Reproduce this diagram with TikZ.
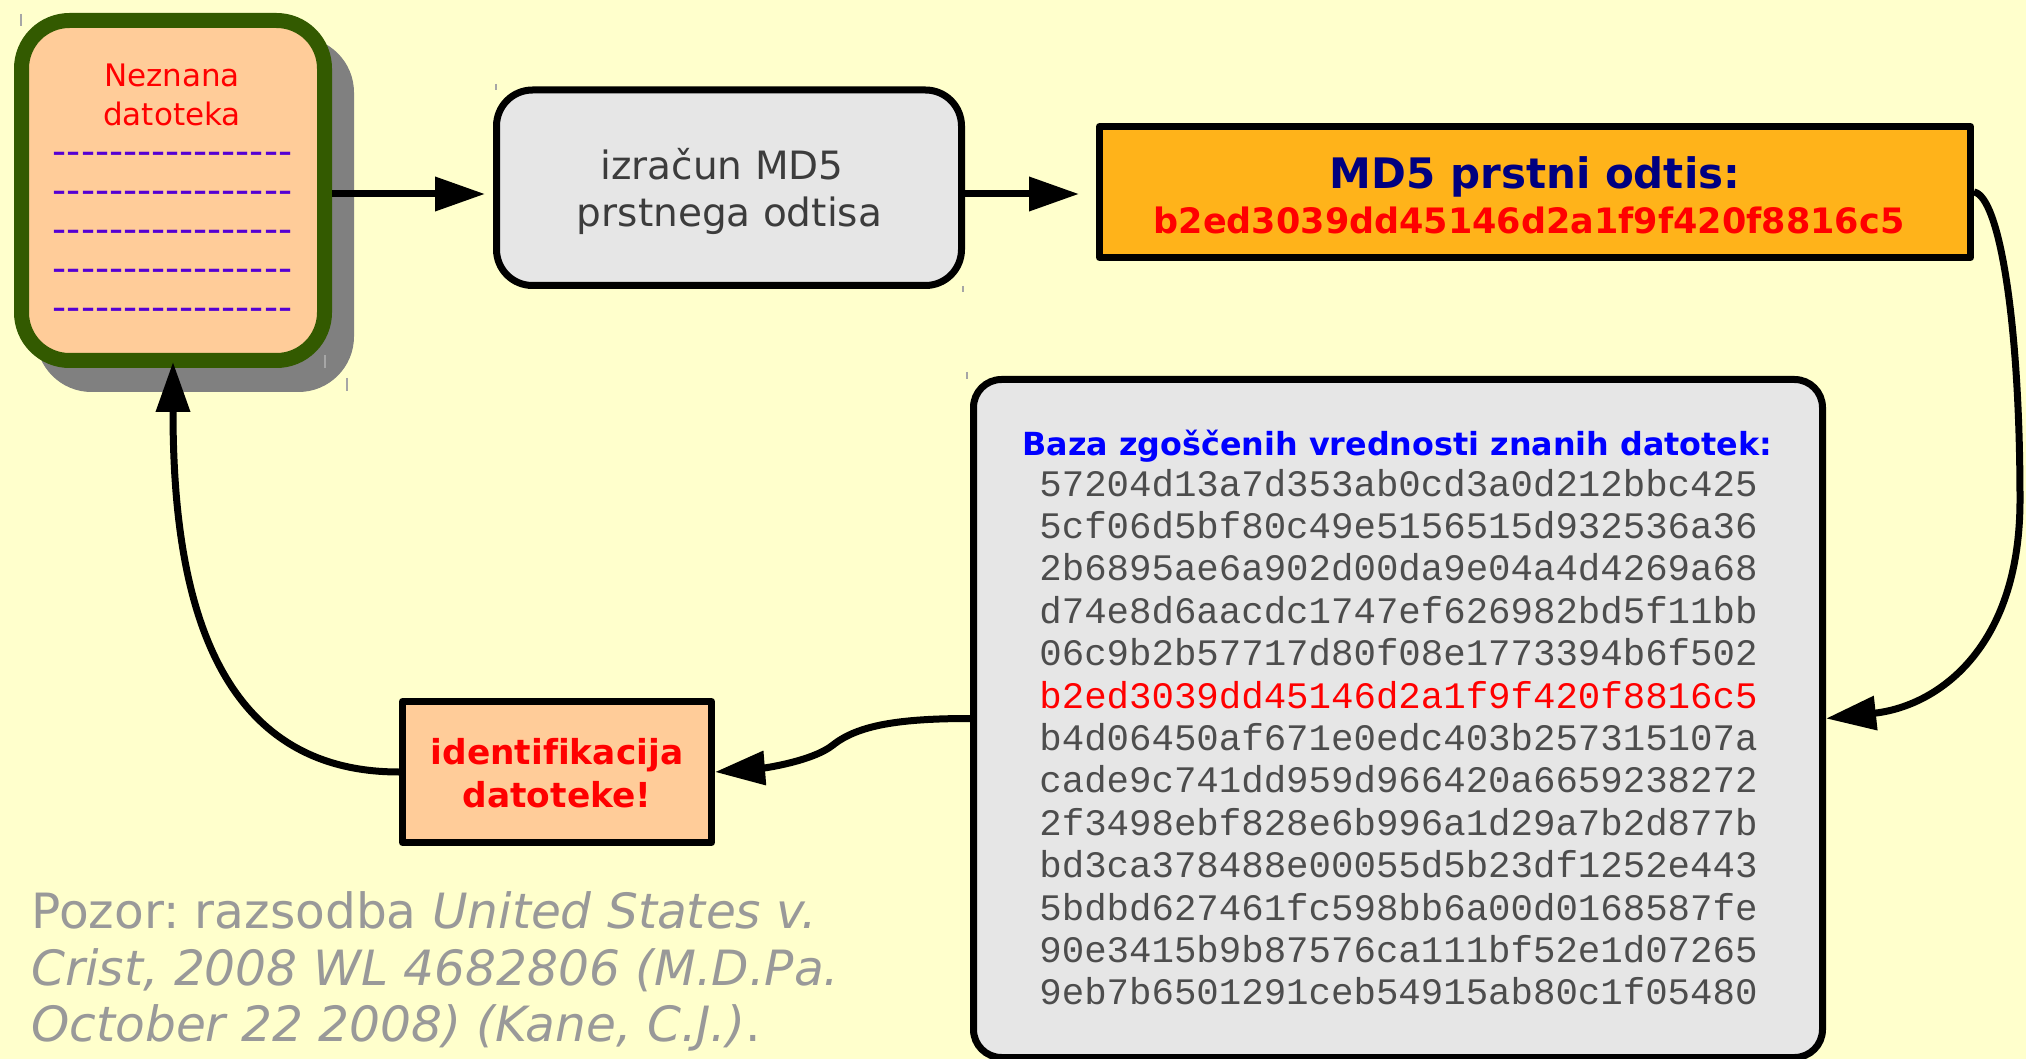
\documentclass[tikz,border=0pt]{standalone}
\usepackage{fontspec}
\setmainfont{DejaVu Sans}[Ligatures=NoCommon]
\newfontfamily\plainfont{DejaVu Sans}
\newfontfamily\hashfont{Liberation Mono}
\usetikzlibrary{arrows.meta,calc}
\frenchspacing

\definecolor{bgyellow}{RGB}{255,255,204}
\definecolor{peach}{RGB}{255,204,153}
\definecolor{leafgreen}{RGB}{51,90,0}
\definecolor{shadowgray}{RGB}{128,128,128}
\definecolor{panelgray}{RGB}{230,230,230}
\definecolor{amber}{RGB}{255,179,26}
\definecolor{navyblue}{RGB}{0,0,128}
\definecolor{purpledash}{RGB}{85,0,212}
\definecolor{darktext}{RGB}{60,60,60}
\definecolor{hashgray}{RGB}{77,77,77}
\definecolor{notegray}{RGB}{153,153,153}
\definecolor{hotred}{RGB}{255,0,0}

\begin{document}
\begin{tikzpicture}[x=0.5pt,y=-0.5pt,
  box/.style={draw=black, line width=3.5pt, inner sep=0pt, line join=round},
  conn/.style={draw=black, line width=3.5pt, line join=round,
    -{Triangle[length=25pt,width=16.5pt]}},
  tickmark/.style={draw=shadowgray!70, line width=0.6pt},
  regtext/.style={anchor=base, inner sep=0pt},
]
% canvas
\fill[bgyellow] (0,0) rectangle (2026,1059);
\useasboundingbox (0,0) rectangle (2026,1059);

% drop shadow behind the unknown file
\fill[shadowgray, rounded corners=27.75pt] (36,37) rectangle (354,392);

% unknown file
\node[box, draw=leafgreen, line width=7.5pt, fill=peach, rounded corners=24pt,
      minimum width=151.5pt, minimum height=170pt] (n1) at (173,190.5) {};
\node[regtext, text=hotred, font=\fontsize{15.5pt}{15.5pt}\selectfont] (n1a) at (172,87) {Neznana};
\node[regtext, text=hotred, font=\fontsize{15.5pt}{15.5pt}\selectfont] (n1b) at (172,126) {datoteka};
\foreach \i/\yy in {1/164.5,2/203.5,3/242.5,4/281.5,5/320.5}
  \node[regtext, text=purpledash, font=\plainfont\fontsize{19.5pt}{19.5pt}\selectfont] (dash\i) at (172.5,\yy) {-----------------};

% MD5 computation
\node[box, fill=panelgray, rounded corners=18pt,
      minimum width=232.5pt, minimum height=97.75pt] (n2) at (729,187.75) {};
\node[regtext, text=darktext, font=\fontsize{19.5pt}{19.5pt}\selectfont] (n2a) at (722,180) {izračun MD5};
\node[regtext, text=darktext, font=\fontsize{19.5pt}{19.5pt}\selectfont] (n2b) at (729.5,227) {prstnega odtisa};

% resulting fingerprint
\node[box, fill=amber, minimum width=435.5pt, minimum height=65.5pt] (n3) at (1535,192) {};
\node[regtext, text=navyblue, font=\bfseries\fontsize{21pt}{21pt}\selectfont] (n3a) at (1535,189) {MD5 prstni odtis:};
\node[regtext, text=hotred, font=\bfseries\fontsize{17.5pt}{17.5pt}\selectfont] (n3b) at (1529,234) {b2ed3039dd45146d2a1f9f420f8816c5};

% hash database
\node[box, fill=panelgray, rounded corners=14pt,
      minimum width=424.5pt, minimum height=339pt] (n4) at (1398,718.5) {};
\node[regtext, text=blue, font=\bfseries\fontsize{15.9pt}{15.9pt}\selectfont] (n4t) at (1397.5,456) {Baza zgoščenih vrednosti znanih datotek:};
\foreach \h/\c [count=\i] in {
  57204d13a7d353ab0cd3a0d212bbc425/hashgray,
  5cf06d5bf80c49e5156515d932536a36/hashgray,
  2b6895ae6a902d00da9e04a4d4269a68/hashgray,
  d74e8d6aacdc1747ef626982bd5f11bb/hashgray,
  06c9b2b57717d80f08e1773394b6f502/hashgray,
  b2ed3039dd45146d2a1f9f420f8816c5/hotred,
  b4d06450af671e0edc403b257315107a/hashgray,
  cade9c741dd959d966420a6659238272/hashgray,
  2f3498ebf828e6b996a1d29a7b2d877b/hashgray,
  bd3ca378488e00055d5b23df1252e443/hashgray,
  5bdbd627461fc598bb6a00d0168587fe/hashgray,
  90e3415b9b87576ca111bf52e1d07265/hashgray,
  9eb7b6501291ceb54915ab80c1f05480/hashgray}
  \node[regtext, text=\c, font=\hashfont\fontsize{18.7pt}{18.7pt}\selectfont] (hash\i) at (1398.5,{496+42.4*(\i-1)}) {\h};

% identification result
\node[box, fill=peach, minimum width=154.5pt, minimum height=70.5pt] (n5) at (557,772) {};
\node[regtext, text=hotred, font=\bfseries\fontsize{17.2pt}{17.2pt}\selectfont] (n5a) at (557,764) {identifikacija};
\node[regtext, text=hotred, font=\bfseries\fontsize{17.2pt}{17.2pt}\selectfont] (n5b) at (557,807) {datoteke!};

% footnote
\node[anchor=base west, inner sep=0pt, text=notegray, font=\fontsize{24.3pt}{24.3pt}\selectfont] (note1) at (31,928) {Pozor: razsodba \textit{United States v.}};
\node[anchor=base west, inner sep=0pt, text=notegray, font=\fontsize{24.3pt}{24.3pt}\selectfont] (note2) at (31,985) {\textit{Crist, 2008 WL 4682806 (M.D.Pa.}};
\node[anchor=base west, inner sep=0pt, text=notegray, font=\fontsize{24.3pt}{24.3pt}\selectfont] (note3) at (31,1041) {\textit{October 22 2008) (Kane, C.J.)}.};

% connectors
\coordinate (row) at (0,194);
\coordinate (bendR) at (2020,500);
\coordinate (sbend) at (833,745);
\draw[conn, shorten >=4pt] (n1.east |- row) -- (n2.west |- row);
\draw[conn, shorten >=8.5pt] (n2.east |- row) -- (n3.west |- row);
\draw[conn] (n3.east) .. controls +(25,4) and +(0,-180) .. (bendR)
                      .. controls +(0,150) and +(110,-12) .. (n4.east);
\draw[conn] (n4.west) .. controls +(-70,0) and +(25,-20) .. (sbend)
                      .. controls +(-20,16) and +(50,-4) .. (n5.east);
\draw[conn, shorten >=-3pt] (n5.west) .. controls +(-200,0) and +(0,195) .. (n1.south);

% small corner handles
\draw[tickmark] (21,14) -- (21,26);
\draw[tickmark] (325,355) -- (325,368);
\draw[tickmark] (347,378) -- (347,391);
\draw[tickmark] (496,84) -- (496,90);
\draw[tickmark] (963,286) -- (963,292);
\draw[tickmark] (967,372) -- (967,379);
\end{tikzpicture}
\end{document}
